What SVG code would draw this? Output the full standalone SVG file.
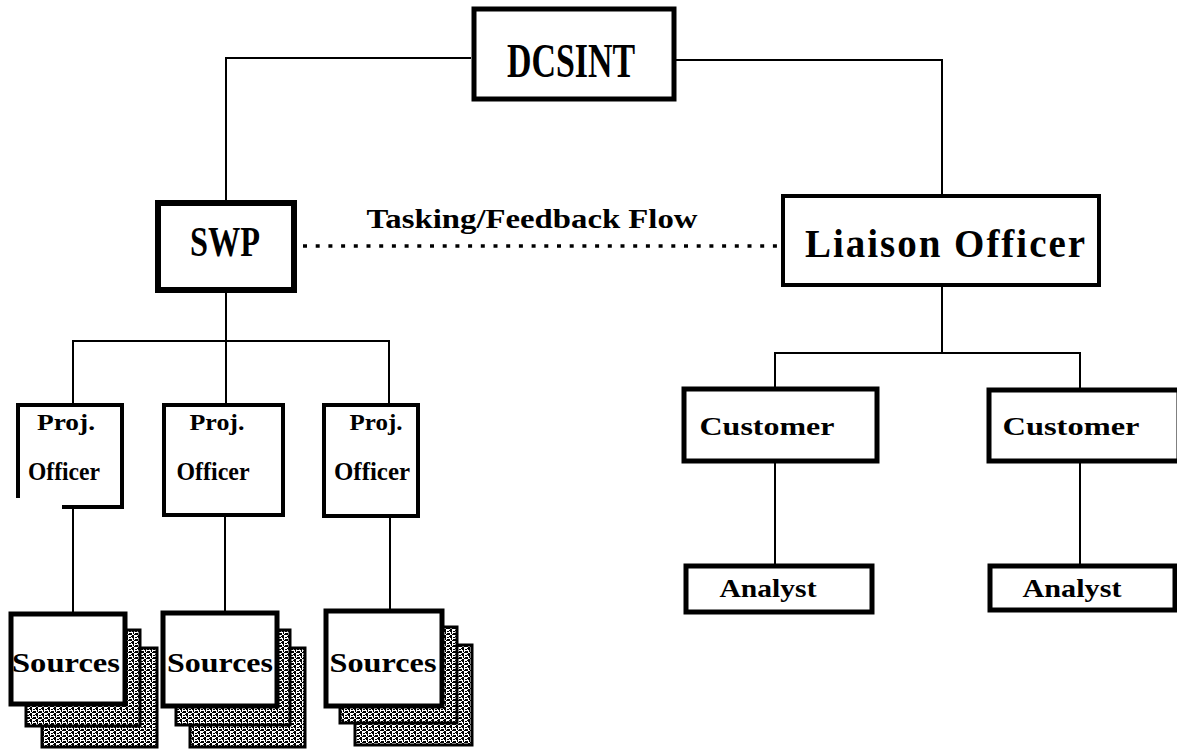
<svg xmlns="http://www.w3.org/2000/svg" width="1177" height="749" viewBox="0 0 1177 749">
<defs>
<pattern id="dither" width="6" height="6" patternUnits="userSpaceOnUse">
<rect width="6" height="6" fill="#fff"/>
<rect x="0" y="0" width="2" height="2" fill="#000"/>
<rect x="3" y="1" width="2" height="1" fill="#000"/>
<rect x="1" y="2" width="1" height="2" fill="#000"/>
<rect x="4" y="3" width="2" height="2" fill="#000"/>
<rect x="2" y="4" width="2" height="1" fill="#000"/>
<rect x="5" y="0" width="1" height="1" fill="#000"/>
<rect x="0" y="5" width="2" height="1" fill="#000"/>
<rect x="3" y="3" width="1" height="1" fill="#000"/>
</pattern>
<style>
.box{fill:#fff;stroke:#000;stroke-width:5}
.thick{stroke-width:6}
.thin{stroke-width:4}
.shadow{fill:url(#dither);stroke:#000;stroke-width:3}
.ln{fill:none;stroke:#000;stroke-width:2}
.dot{fill:none;stroke:#000;stroke-width:3.5;stroke-dasharray:4 8.7}
.t{font-family:"Liberation Serif","DejaVu Serif",serif;fill:#000;text-anchor:middle}
.b{font-weight:bold}
</style>
</defs>
<rect width="1177" height="749" fill="#fff"/>

<g id="connectors">
<polyline class="ln" points="471,58 226,58 226,202"/>
<polyline class="ln" points="675,60 942,60 942,195"/>
<line class="ln" x1="226" y1="291" x2="226" y2="404"/>
<polyline class="ln" points="73,405 73,341 389,341 389,405"/>
<line class="ln" x1="73" y1="508" x2="73" y2="613"/>
<line class="ln" x1="225" y1="515" x2="225" y2="612"/>
<line class="ln" x1="390" y1="517" x2="390" y2="610"/>
<line class="ln" x1="942" y1="285" x2="942" y2="353"/>
<polyline class="ln" points="775,388 775,353 1080,353 1080,390"/>
<line class="ln" x1="775" y1="462" x2="775" y2="565"/>
<line class="ln" x1="1080" y1="462" x2="1080" y2="565"/>
<line class="dot" x1="303" y1="246" x2="778" y2="246"/>
<text class="t b" x="532" y="228" font-size="28" textLength="331" lengthAdjust="spacingAndGlyphs">Tasking/Feedback Flow</text>
</g>

<g id="dcsint">
<rect class="box" x="474" y="9" width="200" height="90"/>
<text class="t b" x="571" y="77" font-size="48" textLength="128" lengthAdjust="spacingAndGlyphs">DCSINT</text>
</g>

<g id="swp">
<rect class="box thick" x="158" y="203" width="136" height="87"/>
<text class="t b" x="225" y="256" font-size="42" textLength="70" lengthAdjust="spacingAndGlyphs">SWP</text>
</g>

<g id="liaison">
<rect class="box thin" x="783" y="196" width="316" height="89"/>
<text class="t b" x="945" y="257" font-size="39" textLength="280" lengthAdjust="spacing">Liaison Officer</text>
</g>

<g id="proj1">
<rect x="18" y="405" width="104" height="102" fill="#fff"/>
<path d="M18,498 V405 H122 V507 H62" fill="none" stroke="#000" stroke-width="4"/>
<text class="t b" x="66" y="430" font-size="23" textLength="58" lengthAdjust="spacingAndGlyphs">Proj.</text>
<text class="t b" x="64" y="480" font-size="25" textLength="72" lengthAdjust="spacingAndGlyphs">Officer</text>
</g>

<g id="proj2">
<rect class="box thin" x="164" y="405" width="119" height="110"/>
<text class="t b" x="217" y="430" font-size="23" textLength="55" lengthAdjust="spacingAndGlyphs">Proj.</text>
<text class="t b" x="213" y="480" font-size="25" textLength="73" lengthAdjust="spacingAndGlyphs">Officer</text>
</g>

<g id="proj3">
<rect class="box thin" x="324" y="405" width="94" height="111"/>
<text class="t b" x="376" y="430" font-size="23" textLength="53" lengthAdjust="spacingAndGlyphs">Proj.</text>
<text class="t b" x="372" y="480" font-size="25" textLength="76" lengthAdjust="spacingAndGlyphs">Officer</text>
</g>

<g id="sources1">
<rect class="shadow" x="42" y="648" width="115" height="99"/>
<rect class="shadow" x="26" y="630" width="114" height="96"/>
<rect class="box" x="11" y="614" width="114" height="90"/>
<text class="t b" x="66" y="672" font-size="28" textLength="108" lengthAdjust="spacingAndGlyphs">Sources</text>
</g>

<g id="sources2">
<rect class="shadow" x="190" y="648" width="115" height="99"/>
<rect class="shadow" x="176" y="630" width="114" height="95"/>
<rect class="box" x="163" y="613" width="114" height="93"/>
<text class="t b" x="220" y="672" font-size="28" textLength="106" lengthAdjust="spacingAndGlyphs">Sources</text>
</g>

<g id="sources3">
<rect class="shadow" x="355" y="645" width="117" height="100"/>
<rect class="shadow" x="340" y="627" width="117" height="96"/>
<rect class="box" x="326" y="611" width="116" height="95"/>
<text class="t b" x="383" y="672" font-size="28" textLength="107" lengthAdjust="spacingAndGlyphs">Sources</text>
</g>

<g id="customer1">
<rect class="box" x="684" y="389" width="193" height="72"/>
<text class="t b" x="767" y="435" font-size="26" textLength="135" lengthAdjust="spacingAndGlyphs">Customer</text>
</g>

<g id="customer2">
<rect class="box" x="989" y="390" width="190" height="71"/>
<text class="t b" x="1071" y="435" font-size="26" textLength="137" lengthAdjust="spacingAndGlyphs">Customer</text>
</g>

<g id="analyst1">
<rect class="box" x="686" y="566" width="186" height="46"/>
<text class="t b" x="768" y="597" font-size="26" textLength="97" lengthAdjust="spacingAndGlyphs">Analyst</text>
</g>

<g id="analyst2">
<rect class="box" x="990" y="566" width="185" height="44"/>
<text class="t b" x="1072" y="597" font-size="26" textLength="99" lengthAdjust="spacingAndGlyphs">Analyst</text>
</g>
</svg>
